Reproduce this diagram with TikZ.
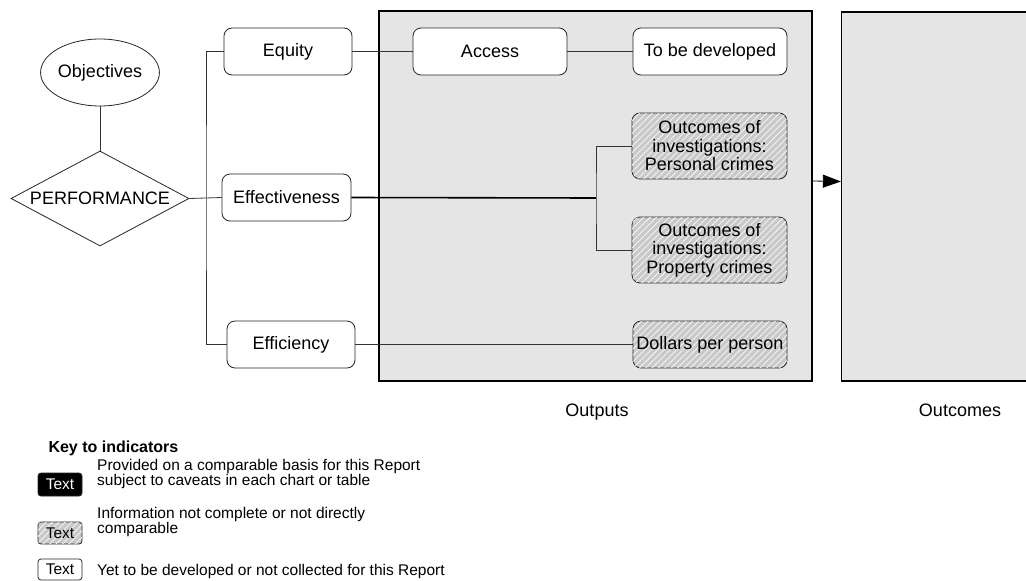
\documentclass[tikz,border=0pt]{standalone}
\usepackage{fontspec}
\setmainfont{Liberation Sans}
\usetikzlibrary{shapes.geometric,patterns.meta,arrows.meta}

\newcommand{\diagfont}{\fontsize{18}{18.5}\selectfont}
\newcommand{\keyfont}{\fontsize{15.5}{15}\selectfont}

\tikzset{
  box/.style={draw=black!85, line width=0.8pt, rounded corners=8pt, fill=white,
    minimum height=47pt, inner sep=2pt, align=center, font=\diagfont},
  hatched/.style={fill=gray!42, postaction={pattern={Lines[angle=45, distance=4.5pt, line width=0.9pt]},
    pattern color=white!90!gray}},
  partbox/.style={box, hatched},
  panel/.style={draw=black, line width=1.3pt, fill=gray!20},
  link/.style={draw=black!80, line width=0.8pt},
  keybox/.style={draw=black!85, line width=0.8pt, rounded corners=3pt, minimum width=44pt,
    inner sep=0pt, font=\keyfont}
}

\begin{document}
\begin{tikzpicture}[x=1pt, y=-1pt]
  \clip (0,0) rectangle (1026,581);

  % panels
  \node[panel, minimum width=433pt, minimum height=370pt] (outputs) at (595.5,196) {};
  \node[panel, minimum width=199pt, minimum height=369pt] (outcomes) at (941,196.5) {};
  \node[font=\diagfont] (outputs_label) at (597,412) {Outputs};
  \node[font=\diagfont] (outcomes_label) at (960,410) {Outcomes};

  % objectives and performance
  \node[ellipse, draw=black!85, line width=0.8pt, minimum width=102pt, minimum height=67pt,
    inner sep=0pt, font=\diagfont] (objectives) at (100,72.5) {Objectives};
  \node[diamond, draw=black!85, line width=0.8pt, aspect=1.87, minimum width=178pt,
    minimum height=95pt, inner sep=0pt, font=\diagfont] (performance) at (100,198.5) {PERFORMANCE};

  % first level
  \node[box, minimum width=128pt] (equity) at (288,51.5) {Equity};
  \node[box, minimum width=129pt] (effectiveness) at (286.5,197.5) {Effectiveness};
  \node[box, minimum width=128pt] (efficiency) at (291,344.5) {Efficiency};

  % indicators
  \node[box, minimum width=154pt] (access) at (490,51.5) {Access};
  \node[box, minimum width=154pt] (tbd) at (710,51.5) {To be developed};
  \node[partbox, minimum width=155pt, minimum height=66pt] (personal) at (709.5,146)
    {Outcomes of\\investigations:\\Personal crimes};
  \node[partbox, minimum width=155pt, minimum height=66pt] (property) at (709.5,250)
    {Outcomes of\\investigations:\\Property crimes};
  \node[partbox, minimum width=154pt] (dollars) at (710,344.5) {Dollars per person};

  \coordinate (fork) at (206,198);
  \coordinate (split) at (596,198);

  \draw[link] (objectives) -- (performance);
  \draw[link] (performance.east) -- (effectiveness.west);
  \draw[link] (equity.west) -| (fork) |- (efficiency.west);
  \draw[link] (equity.east) -- (access.west);
  \draw[link] (access.east) -- (tbd.west);
  \draw[link, draw=black, line width=1.6pt] (effectiveness.east) -- (split);
  \draw[link] (personal.west) -| (split) |- (property.west);
  \draw[link] (efficiency.east) -- (dollars.west);
  \draw[link, draw=black, -{Triangle[length=18pt, width=13pt]}] ([yshift=15pt]outputs.east) -- ([yshift=15pt]outcomes.west);

  % key
  \node[anchor=west, font=\fontsize{16}{16}\selectfont\bfseries] (keytitle) at (45,448) {Key to indicators};
  \node[keybox, fill=black, text=white, minimum height=23pt] (keyblack) at (60,484.5) {Text};
  \node[keybox, hatched, minimum height=22pt] (keygrey) at (60,533) {Text};
  \node[keybox, fill=white, minimum height=21pt] (keywhite) at (60,569.5) {Text};
  \node[anchor=west, align=left, inner sep=0pt, font=\keyfont] (keyblack_text) at (97,473.5)
    {Provided on a comparable basis for this Report\\subject to caveats in each chart or table};
  \node[anchor=west, align=left, inner sep=0pt, font=\keyfont] (keygrey_text) at (97,522)
    {Information not complete or not directly\\comparable};
  \node[anchor=west, align=left, inner sep=0pt, font=\keyfont] (keywhite_text) at (97,571)
    {Yet to be developed or not collected for this Report};
\end{tikzpicture}
\end{document}
